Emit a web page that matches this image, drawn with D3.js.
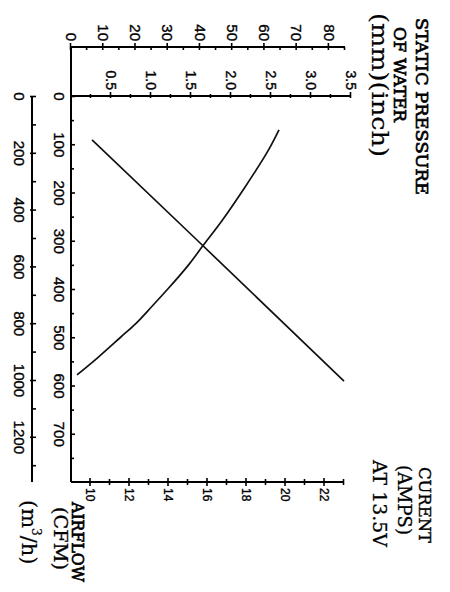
<!DOCTYPE html>
<html>
<head>
<meta charset="utf-8">
<script src="https://cdn.jsdelivr.net/npm/d3@7"></script>
<style>
body { margin: 0; background: #fff; }
</style>
</head>
<body>
<script>
// tick labels
var cfmTicks = [0, 100, 200, 300, 400, 500, 600, 700];
var m3hTicks = [0, 200, 400, 600, 800, 1000, 1200];
var inchTicks = [0.5, 1.0, 1.5, 2.0, 2.5, 3.0, 3.5];
var mmTicks = [0, 10, 20, 30, 40, 50, 60, 70, 80];
var ampTicks = [10, 12, 14, 16, 18, 20, 22];

// static pressure curve (airflow CFM -> inch of water)
var pressureCfm = [70, 120, 190, 260, 310, 350, 400, 440, 470, 500, 540, 578];
var pressureInch = [2.60, 2.44, 2.17, 1.88, 1.65, 1.47, 1.21, 0.99, 0.82, 0.62, 0.35, 0.075];

// current line (airflow CFM -> amps)
var currentCfm = [91, 300, 591];
var currentAmps = [10.08, 15.5, 23.0];

var W = 450, H = 592;
var plotW = 386, plotH = 280;   // chart drawn upright, then turned 90deg

var svg = d3.select("body").append("svg").attr("width", W).attr("height", H);
var g = svg.append("g").attr("transform", "translate(351,96) rotate(90)");

var x = d3.scaleLinear().domain([0, 800]).range([0, plotW]);
var xm3 = d3.scaleLinear().domain([0, 800 * 1.699]).range([0, plotW]);
var yIn = d3.scaleLinear().domain([0, 3.5]).range([plotH, 0]);
var yMm = d3.scaleLinear().domain([0, 85]).range([plotH, 6]);
var yA = d3.scaleLinear().domain([9, 23]).range([plotH, 7]);

var mmAxisU = -49, m3AxisV = 319;
var sans = "Liberation Sans, Arial, sans-serif";
var serif = "DejaVu Serif, serif";

function style(sel, fs) {
  sel.attr("font-family", sans).attr("font-size", fs);
  sel.select(".domain").remove();
  sel.selectAll(".tick line").attr("stroke", "#000").attr("stroke-width", 1.6);
  sel.selectAll(".tick text").attr("fill", "#000").attr("stroke", "#000").attr("stroke-width", 0.35);
}

// CFM axis
var gc = g.append("g").attr("transform", "translate(0," + plotH + ")");
gc.call(d3.axisBottom(x).tickValues(cfmTicks).tickSizeInner(-4).tickSizeOuter(0).tickPadding(6).tickFormat(d3.format("d")));
style(gc, 15);
var gc2 = g.append("g").attr("transform", "translate(0," + plotH + ")");
gc2.call(d3.axisBottom(x).tickValues(d3.range(50, 800, 100)).tickSizeInner(-3).tickSizeOuter(0).tickFormat(""));
style(gc2, 15);

// m3/h axis
var gm = g.append("g").attr("transform", "translate(0," + m3AxisV + ")");
gm.call(d3.axisBottom(xm3).tickValues(m3hTicks).tickSizeInner(-4).tickSizeOuter(0).tickPadding(7).tickFormat(d3.format("d")));
style(gm, 15);
gm.selectAll(".tick line").attr("y1", 2);
var gm2 = g.append("g").attr("transform", "translate(0," + m3AxisV + ")");
gm2.call(d3.axisBottom(xm3).tickValues(d3.range(100, 1400, 200)).tickSizeInner(-4).tickSizeOuter(0).tickFormat(""));
style(gm2, 15);

// inch axis
var gi = g.append("g");
gi.call(d3.axisLeft(yIn).tickValues(inchTicks).tickSizeInner(0).tickSizeOuter(0).tickPadding(6).tickFormat(d3.format(".1f")));
style(gi, 14);
gi.selectAll(".tick line").attr("x1", -4).attr("x2", 2);
var gi2 = g.append("g");
gi2.call(d3.axisLeft(yIn).tickValues(d3.range(0.25, 3.5, 0.5)).tickSizeInner(0).tickSizeOuter(0).tickFormat(""));
style(gi2, 14);
gi2.selectAll(".tick line").attr("x1", -2).attr("x2", 2);

// mm axis
var gmm = g.append("g").attr("transform", "translate(" + mmAxisU + ",0)");
gmm.call(d3.axisLeft(yMm).tickValues(mmTicks).tickSizeInner(0).tickSizeOuter(0).tickPadding(6).tickFormat(d3.format("d")));
style(gmm, 15);
gmm.selectAll(".tick line").attr("x1", -4).attr("x2", 3);
var gmm2 = g.append("g").attr("transform", "translate(" + mmAxisU + ",0)");
gmm2.call(d3.axisLeft(yMm).tickValues(d3.range(5, 90, 10)).tickSizeInner(0).tickSizeOuter(0).tickFormat(""));
style(gmm2, 15);
gmm2.selectAll(".tick line").attr("x1", 0).attr("x2", 3);

// amps axis
var ga = g.append("g").attr("transform", "translate(" + plotW + ",0)");
ga.call(d3.axisRight(yA).tickValues(ampTicks).tickSizeInner(0).tickSizeOuter(0).tickPadding(6).tickFormat(d3.format("d")));
style(ga, 12);
ga.selectAll(".tick line").attr("x1", -4).attr("x2", 4);
var ga2 = g.append("g").attr("transform", "translate(" + plotW + ",0)");
ga2.call(d3.axisRight(yA).tickValues(d3.range(11, 24, 2)).tickSizeInner(0).tickSizeOuter(0).tickFormat(""));
style(ga2, 12);
ga2.selectAll(".tick line").attr("x1", -3).attr("x2", 3);

// axis lines
var frame = [
  [[mmAxisU, plotH], [plotW, plotH]],
  [[mmAxisU, plotH], [mmAxisU, yMm(85)]],
  [[0, plotH], [0, yIn(3.5)]],
  [[plotW, plotH], [plotW, yA(23)]],
  [[0, m3AxisV], [plotW, m3AxisV]]
];
g.selectAll(".frame").data(frame).enter().append("path")
  .attr("class", "frame")
  .attr("d", function(d) { return d3.line()(d); })
  .attr("stroke", "#000").attr("stroke-width", 2).attr("fill", "none");

// curves
var pressure = pressureCfm.map(function(c, i) { return [c, pressureInch[i]]; });
var current = currentCfm.map(function(c, i) { return [c, currentAmps[i]]; });

g.append("path").datum(pressure)
  .attr("d", d3.line().x(function(d) { return x(d[0]); }).y(function(d) { return yIn(d[1]); }).curve(d3.curveNatural))
  .attr("fill", "none").attr("stroke", "#111").attr("stroke-width", 1.7);

g.append("path").datum(current)
  .attr("d", d3.line().x(function(d) { return x(d[0]); }).y(function(d) { return yA(d[1]); }))
  .attr("fill", "none").attr("stroke", "#111").attr("stroke-width", 1.7);

// titles
var titles = [
  ["STATIC PRESSURE", -78, -65, 177, 17, 0.7],
  ["OF WATER", -69, -43, 95, 17, 0.7],
  ["(mm)(inch)", -83, -21, 144, 22, 0.2],
  ["CURENT", 371, -68, 76, 17, 0.4],
  ["(AMPS)", 369, -47, 70, 18, 0.3],
  ["AT 13.5V", 364, -22, 87, 18, 0.3],
  ["AIRFLOW", 406, 279, 80, 17, 0.7],
  ["(CFM)", 411, 297, 63, 19, 0.3]
];
g.selectAll(".title").data(titles).enter().append("text")
  .attr("class", "title")
  .attr("x", function(d) { return d[1]; })
  .attr("y", function(d) { return d[2]; })
  .attr("textLength", function(d) { return d[3]; })
  .attr("lengthAdjust", "spacingAndGlyphs")
  .attr("font-family", serif)
  .attr("font-size", function(d) { return d[4]; })
  .attr("stroke", "#000")
  .attr("stroke-width", function(d) { return d[5]; })
  .text(function(d) { return d[0]; });

var t3 = g.append("text").attr("x", 404).attr("y", 329)
  .attr("font-family", serif).attr("font-size", 21)
  .attr("stroke", "#000").attr("stroke-width", 0.2);
t3.append("tspan").text("(m");
t3.append("tspan").attr("dy", -10).attr("font-size", 12).text("3");
t3.append("tspan").attr("dy", 10).text("/h)");
</script>
</body>
</html>
